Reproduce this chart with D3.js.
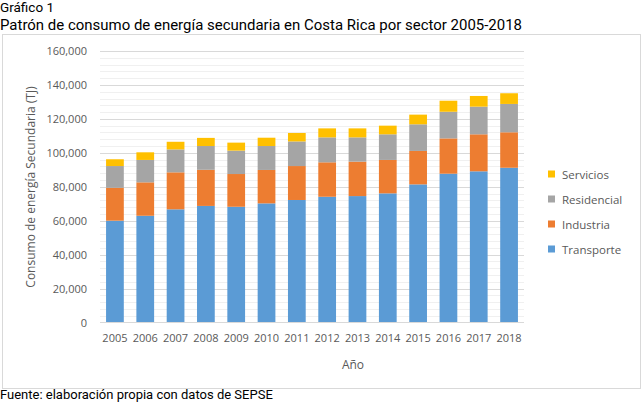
<!DOCTYPE html>
<html>
<head>
<meta charset="utf-8">
<script src="https://cdn.jsdelivr.net/npm/d3@7"></script>
<style>
  body { margin: 0; background: #fff; }
  svg { display: block; }
</style>
</head>
<body>
<div class="chart"></div>
<script>
const years = ["2005","2006","2007","2008","2009","2010","2011","2012","2013","2014","2015","2016","2017","2018"];
const transporte  = [60000, 62900, 66700, 68700, 68200, 70200, 72200, 74100, 74500, 76100, 81400, 87700, 89100, 91200];
const industria   = [19400, 19700, 21800, 21300, 19300, 19700, 20000, 20300, 20300, 19700, 19700, 20800, 21800, 20900];
const residencial = [12800, 13200, 13500, 14000, 13800, 14100, 14500, 14700, 14300, 15100, 15700, 15700, 16300, 16700];
const servicios   = [4000, 4500, 4500, 4800, 4700, 4900, 5000, 5300, 5300, 5100, 5700, 6500, 6300, 6300];
const yTicks = [0, 20000, 40000, 60000, 80000, 100000, 120000, 140000, 160000];

const series = ["Transporte", "Industria", "Residencial", "Servicios"];
const colors = {Transporte: "#5B9BD5", Industria: "#ED7D31", Residencial: "#A5A5A5", Servicios: "#FFC000"};

const data = years.map((y, i) => ({
  year: y, Transporte: transporte[i], Industria: industria[i],
  Residencial: residencial[i], Servicios: servicios[i]
}));

const W = 644, H = 402;
const svg = d3.select(".chart").append("svg").attr("width", W).attr("height", H);

// chart frame
svg.append("rect").attr("x", 2.5).attr("y", 34.5).attr("width", 638).attr("height", 354)
  .attr("fill", "#fff").attr("stroke", "#d9d9d9");

// headings
svg.append("text").attr("x", 0).attr("y", 12).text("Gráfico 1")
  .attr("font-family", "Roboto").attr("font-size", 13.5).attr("fill", "#000");
svg.append("text").attr("x", 0).attr("y", 30)
  .text("Patrón de consumo de energía secundaria en Costa Rica por sector 2005-2018")
  .attr("font-family", "Roboto").attr("font-size", 15).attr("fill", "#000")
  .attr("textLength", 522).attr("lengthAdjust", "spacingAndGlyphs");
svg.append("text").attr("x", 0).attr("y", 398.5)
  .text("Fuente: elaboración propia con datos de SEPSE")
  .attr("font-family", "Roboto").attr("font-size", 13).attr("fill", "#000");

const x = d3.scaleBand().domain(years).range([100, 524]).paddingInner(0.415).paddingOuter(0.2);
const y = d3.scaleLinear().domain([0, 160000]).range([322.5, 51]);

// minor grid
svg.append("g").selectAll("line").data(d3.range(4000, 160000, 4000).filter(v => v % 20000 !== 0))
  .join("line").attr("x1", 100).attr("x2", 524)
  .attr("y1", d => Math.round(y(d)) + 0.5).attr("y2", d => Math.round(y(d)) + 0.5)
  .attr("stroke", "#f0f0f0");

// major grid
svg.append("g").selectAll("line").data(yTicks.slice(1))
  .join("line").attr("x1", 100).attr("x2", 524)
  .attr("y1", d => Math.round(y(d)) + 0.5).attr("y2", d => Math.round(y(d)) + 0.5)
  .attr("stroke", "#d9d9d9");

const stack = d3.stack().keys(series)(data);
svg.append("g").selectAll("g").data(stack).join("g")
  .attr("fill", d => colors[d.key])
  .selectAll("rect").data(d => d).join("rect")
  .attr("x", d => x(d.data.year))
  .attr("width", x.bandwidth())
  .attr("y", d => y(d[1]))
  .attr("height", d => y(d[0]) - y(d[1]));

// x axis line
svg.append("line").attr("x1", 100).attr("x2", 524).attr("y1", 322.5).attr("y2", 322.5)
  .attr("stroke", "#d9d9d9");

const yAxis = d3.axisLeft(y).tickValues(yTicks).tickSize(0).tickPadding(0).tickFormat(d3.format(","));
const gy = svg.append("g").attr("transform", "translate(87,0)").call(yAxis);
gy.select(".domain").remove();
gy.selectAll("text").attr("font-family", "Open Sans").attr("font-size", 11).attr("fill", "#595959");

const xAxis = d3.axisBottom(x).tickSize(0).tickPadding(0);
const gx = svg.append("g").attr("transform", "translate(0,334)").call(xAxis);
gx.select(".domain").remove();
gx.selectAll("text").attr("font-family", "Open Sans").attr("font-size", 11).attr("fill", "#595959");

svg.append("text").attr("x", 353).attr("y", 369).attr("text-anchor", "middle").text("Año")
  .attr("font-family", "Open Sans").attr("font-size", 12).attr("fill", "#595959");
svg.append("text").attr("transform", "translate(35,187) rotate(-90)").attr("text-anchor", "middle")
  .text("Consumo de energía Secundaria (TJ)")
  .attr("font-family", "Open Sans").attr("font-size", 12).attr("fill", "#595959");

// legend
const legend = svg.append("g").selectAll("g").data(series.slice().reverse()).join("g")
  .attr("transform", (d, i) => `translate(548,${174 + i * 25})`);
legend.append("rect").attr("x", 0).attr("y", -3.5).attr("width", 7).attr("height", 7)
  .attr("fill", d => colors[d]);
legend.append("text").attr("x", 14).attr("y", 4.5).text(d => d)
  .attr("font-family", "Open Sans").attr("font-size", 11.5).attr("fill", "#595959");
</script>
</body>
</html>
